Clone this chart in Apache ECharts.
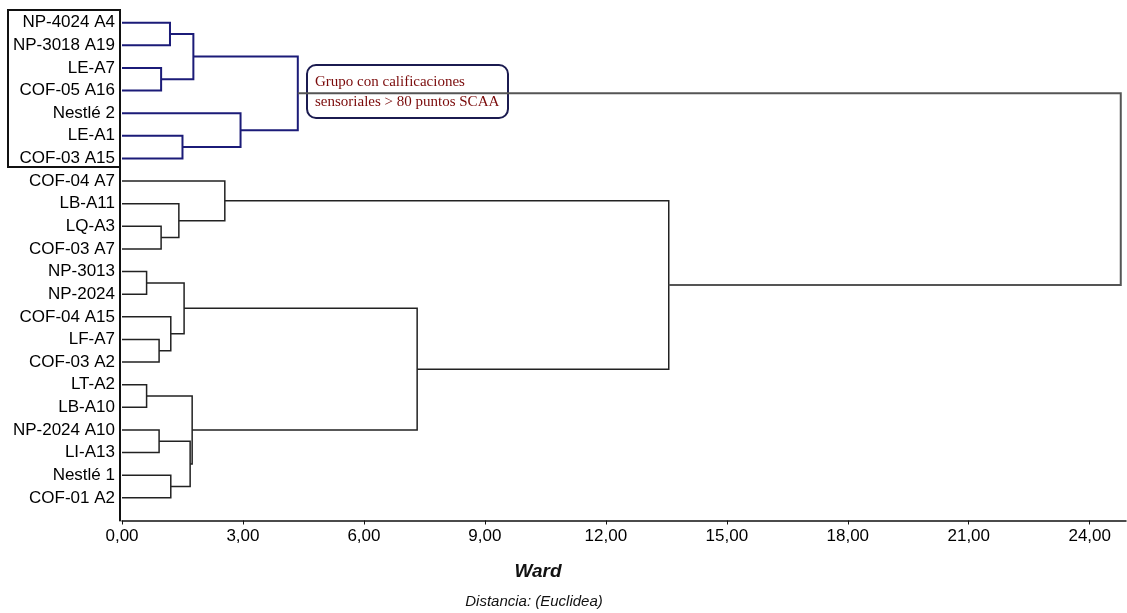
<!DOCTYPE html>
<html>
<head>
<meta charset="utf-8">
<script src="https://cdn.jsdelivr.net/npm/echarts@6/dist/echarts.min.js"></script>
<style>
  html, body { margin: 0; padding: 0; background: #fff; }
  #main { width: 1127px; height: 613px; }
</style>
</head>
<body>
<div id="main"></div>
<script>
// hojas del dendrograma, de arriba a abajo
const leaves = ['NP-4024 A4', 'NP-3018 A19', 'LE-A7', 'COF-05 A16', 'Nestlé 2', 'LE-A1', 'COF-03 A15',
  'COF-04 A7', 'LB-A11', 'LQ-A3', 'COF-03 A7', 'NP-3013', 'NP-2024', 'COF-04 A15', 'LF-A7', 'COF-03 A2',
  'LT-A2', 'LB-A10', 'NP-2024 A10', 'LI-A13', 'Nestlé 1', 'COF-01 A2']

// uniones (como linkage): ids < 22 son hojas, id 22 + k es la unión k
const mergeLeft = [0, 2, 22, 5, 4, 24, 9, 8, 7, 11, 14, 13, 31, 16, 18, 20, 36, 35, 34, 30, 27]
const mergeRight = [1, 3, 23, 6, 25, 26, 10, 28, 29, 12, 15, 32, 33, 17, 19, 21, 37, 38, 39, 40, 41]
const mergeHeight = [1.19, 0.97, 1.77, 1.50, 2.94, 4.36, 0.97, 1.41, 2.55, 0.61, 0.92, 1.21, 1.54,
  0.61, 0.92, 1.21, 1.69, 1.74, 7.32, 13.56, 24.77]
// las 6 primeras uniones forman el grupo > 80 puntos SCAA
const groupCount = 6

const xTicks = [0, 3, 6, 9, 12, 15, 18, 21, 24]

// posición de cada nodo (altura, fila)
const nodeH = leaves.map(() => 0)
const nodeY = leaves.map((_, i) => i + 1)
const segs = []
mergeHeight.forEach((h, k) => {
  const a = mergeLeft[k], b = mergeRight[k]
  segs.push([h, nodeY[a], nodeY[b], nodeH[a], nodeH[b], k < groupCount ? 1 : (k === mergeHeight.length - 1 ? 2 : 0)])
  nodeH.push(h)
  nodeY.push((nodeY[a] + nodeY[b]) / 2)
})

const myChart = echarts.init(document.getElementById('main'))

const option = {
  animation: false,
  grid: { left: 122, right: 1, top: -2, bottom: 92.5 },
  xAxis: {
    type: 'value',
    position: 'bottom',
    min: 0,
    max: 24.9,
    interval: 3,
    axisLine: { onZero: false, lineStyle: { color: '#111', width: 1.5 } },
    axisTick: { show: true, length: 4, customValues: xTicks, lineStyle: { color: '#111' } },
    splitLine: { show: false },
    axisLabel: {
      margin: 7,
      color: '#000',
      fontSize: 17,
      fontFamily: 'Liberation Sans, Arial',
      customValues: xTicks,
      formatter: v => xTicks.includes(v) ? v.toFixed(2).replace('.', ',') : ''
    }
  },
  yAxis: {
    type: 'value',
    inverse: true,
    min: 0,
    max: 23,
    interval: 1,
    offset: 2,
    axisLine: { show: true, onZero: false, lineStyle: { color: '#111', width: 2 } },
    axisTick: { show: false },
    splitLine: { show: false },
    axisLabel: {
      margin: 5,
      color: '#000',
      fontSize: 17,
      fontFamily: 'Liberation Sans, Arial',
      formatter: v => leaves[v - 1] || ''
    }
  },
  series: [{
    type: 'custom',
    data: segs,
    encode: { x: [0, 3, 4], y: [1, 2] },
    renderItem: (params, api) => {
      const h = api.value(0)
      const p1 = api.coord([api.value(3), api.value(1)])
      const p2 = api.coord([h, api.value(1)])
      const p3 = api.coord([h, api.value(2)])
      const p4 = api.coord([api.value(4), api.value(2)])
      const kind = api.value(5)
      const color = kind === 1 ? '#1b1b78' : (kind === 2 ? '#555' : '#222')
      return {
        type: 'polyline',
        shape: { points: [p1, p2, p3, p4] },
        style: { stroke: color, lineWidth: kind === 0 ? 1.5 : 2, fill: null }
      }
    },
    z: 2
  }],
  graphic: [
    {
      // tapa el eje sobre el recuadro del grupo
      type: 'rect',
      shape: { x: 116, y: 0, width: 8, height: 9 },
      style: { fill: '#fff' },
      z: 9
    },
    {
      type: 'rect',
      shape: { x: 8, y: 10, width: 112, height: 157 },
      style: { fill: null, stroke: '#111', lineWidth: 2 },
      z: 10
    },
    {
      type: 'group',
      z: 20,
      children: [
        {
          type: 'rect',
          shape: { x: 307, y: 65, width: 201, height: 53, r: 9 },
          style: { fill: '#fff', stroke: '#1b1b50', lineWidth: 2 }
        },
        {
          type: 'text',
          x: 315, y: 72,
          style: {
            text: 'Grupo con calificaciones\nsensoriales > 80 puntos SCAA',
            font: '15px "Liberation Serif", "Times New Roman", serif',
            fill: '#7a0a0a',
            lineHeight: 20
          }
        }
      ]
    },
    {
      type: 'text',
      x: 538, y: 572,
      style: {
        text: 'Ward',
        font: 'italic bold 19px "Liberation Sans", Arial',
        fill: '#111',
        align: 'center',
        verticalAlign: 'middle'
      }
    },
    {
      type: 'text',
      x: 534, y: 602,
      style: {
        text: 'Distancia: (Euclidea)',
        font: 'italic 15px "Liberation Sans", Arial',
        fill: '#111',
        align: 'center',
        verticalAlign: 'middle'
      }
    }
  ]
}

option && myChart.setOption(option)
</script>
</body>
</html>
